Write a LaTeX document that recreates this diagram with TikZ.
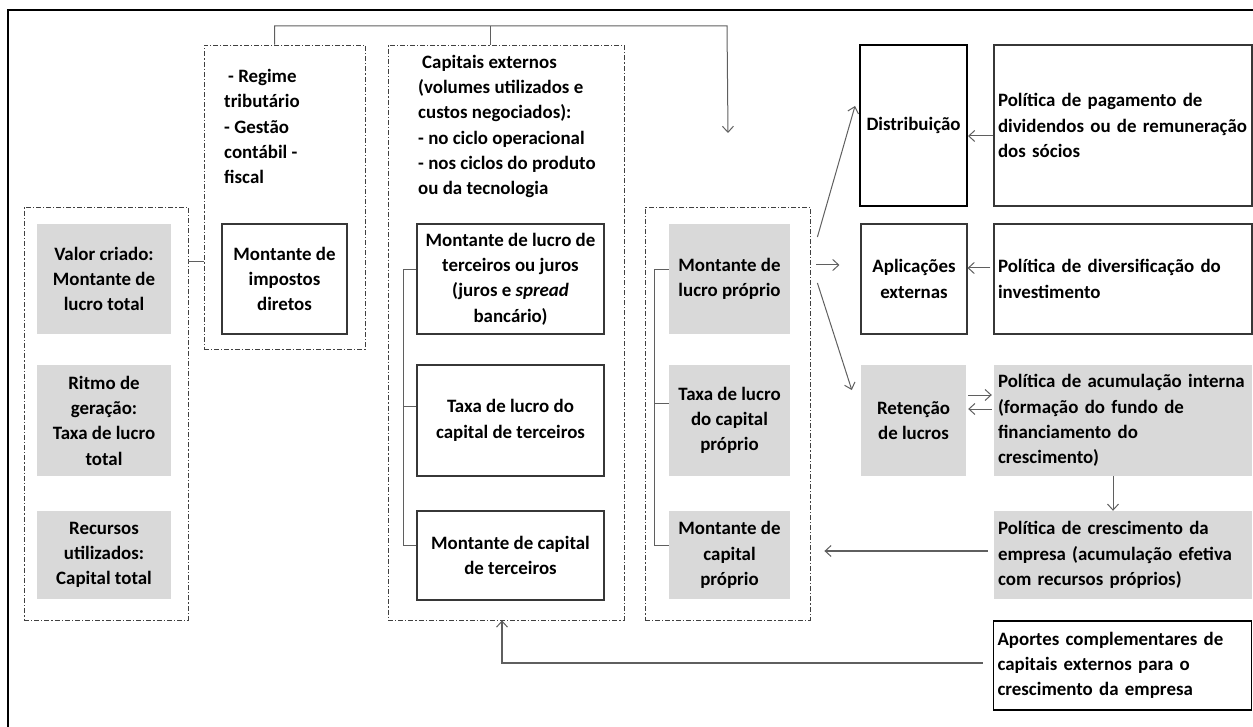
\documentclass[tikz,border=0pt]{standalone}
\usepackage{fontspec}
\setmainfont{Carlito}
\usetikzlibrary{arrows.meta,calc}
\definecolor{boxgray}{RGB}{217,217,217}
\definecolor{linegray}{RGB}{95,95,95}
\definecolor{boxline}{RGB}{55,55,55}
\newcommand\keepline[1]{\mbox{#1}}
\begin{document}
\begin{tikzpicture}[x=1pt,y=-1pt,
  every node/.style={font=\fontsize{18.9}{25.3}\selectfont\bfseries, inner sep=2pt, align=center},
  sz/.style 2 args={minimum width=#1pt, minimum height=#2pt},
  grp/.style={draw=black!75, line width=0.8pt, dash pattern=on 5pt off 2pt on 1.2pt off 2pt},
  gbox/.style={fill=boxgray},
  wbox/.style={draw=boxline, line width=1.1pt, fill=white},
  polbox/.style={text width=250pt, inner xsep=4pt, align=left},
  conn/.style={draw=linegray, line width=1pt},
  arr/.style={conn, -{Straight Barb[length=6pt,width=11pt]}},
  thickarr/.style={draw=linegray, line width=1.6pt, -{Straight Barb[length=6pt,width=11pt,line width=1pt]}}
]
\useasboundingbox (0,0) rectangle (1253,727);
% outer frame (only top and left visible)
\draw[line width=2pt] (8,10) rectangle (1280,760);

% dashed groups
\node[grp, sz={164}{413}] (g1) at (106,413.5) {};
\node[grp, sz={161}{304}] (g2) at (284.5,197) {};
\node[grp, sz={236}{575}] (g3) at (506,332.5) {};
\node[grp, sz={165}{413}] (g4) at (727.5,413.5) {};

% left group
\node[gbox, sz={134}{110}] (v1) at (104,279) {Valor criado:\\Montante de\\lucro total};
\node[gbox, sz={134}{111}] (v2) at (104,420.5) {Ritmo de\\geração:\\Taxa de lucro\\total};
\node[gbox, sz={134}{88}] (v3) at (104,555) {Recursos\\utilizados:\\Capital total};

% taxes
\node[anchor=west, align=left] (regime) at (222,126.5) {\hspace{4pt}- Regime\\tributário\\- Gestão\\contábil -\\fiscal};
\node[wbox, sz={125}{110}] (imp) at (284.5,279) {Montante de\\impostos\\diretos};

% external capital
\node[anchor=west, align=left] (capext) at (416,126.5) {\hspace{4pt}Capitais externos\\(volumes utilizados e\\custos negociados):\\- no ciclo operacional\\- nos ciclos do produto\\ou da tecnologia};
\node[wbox, sz={187}{110}] (t1) at (510.5,279) {Montante de lucro de\\terceiros ou juros\\(juros e \textit{spread}\\bancário)};
\node[wbox, sz={187}{111}] (t2) at (510.5,420.5) {Taxa de lucro do\\capital de terceiros};
\node[wbox, sz={187}{89}] (t3) at (510.5,555.5) {Montante de capital\\de terceiros};

% own capital
\node[gbox, sz={121}{110}] (p1) at (729.5,279) {Montante de\\lucro próprio};
\node[gbox, sz={121}{111}] (p2) at (729.5,420.5) {Taxa de lucro\\do capital\\próprio};
\node[gbox, sz={121}{88}] (p3) at (729.5,555) {Montante de\\capital\\próprio};

% destinations
\node[wbox, draw=black, line width=2pt, sz={107}{161}] (dist) at (913.5,125.5) {Distribuição};
\node[wbox, sz={106}{110}] (apl) at (914,279) {Aplicações\\externas};
\node[gbox, sz={105}{111}] (ret) at (913.5,420.5) {Retenção\\de lucros};

% policies
\node[wbox, polbox, sz={258}{161}] (pol1) at (1123,125.5) {\keepline{Política de pagamento de}\\\keepline{dividendos ou de remuneração}\\\keepline{dos sócios}};
\node[wbox, polbox, sz={258}{110}] (pol2) at (1123,279) {\keepline{Política de diversificação do}\\\keepline{investimento}};
\node[gbox, polbox, sz={258}{111}] (pol3) at (1123,420.5) {\keepline{Política de acumulação interna}\\\keepline{(formação do fundo de}\\\keepline{financiamento do}\\\keepline{crescimento)}};
\node[gbox, polbox, sz={258}{88}] (pol4) at (1123,555) {\keepline{Política de crescimento da}\\\keepline{empresa (acumulação efetiva}\\\keepline{com recursos próprios)}};
\node[wbox, draw=black, polbox, sz={257}{89}] (apo) at (1122.5,665.5) {\keepline{Aportes complementares de}\\\keepline{capitais externos para o}\\\keepline{crescimento da empresa}};

% connectors
\draw[conn] (g1.east |- 0,262) -- (g2.west |- 0,262);

\coordinate (topL) at ($(g2.north west)+(71,0)$);
\coordinate (topM) at ($(g3.north)+(-16,0)$);
\coordinate (topR) at (727,26);
\coordinate (topEnd) at (728,133);
\draw[arr] (topL) |- (topR) -- (topEnd);
\draw[conn] (topM) -- (topM |- topR);

% bracket in external capital group
\coordinate (b3) at (403,270);
\draw[conn] (t1.west |- b3) -- (b3) -- (b3 |- 0,545) -- (t3.west |- 0,545);
\draw[conn] (b3 |- 0,406) -- (t2.west |- 0,406);

% bracket in own capital group
\coordinate (b4) at (654,270);
\draw[conn] (p1.west |- b4) -- (b4) -- (b4 |- 0,545) -- (p3.west |- 0,545);
\draw[conn] (b4 |- 0,403) -- (p2.west |- 0,403);

% from own profit group to destinations
\draw[arr] ($(g4.east |- 0,237)+(7,0)$) -- ($(dist.west |- 0,106)+(-4,0)$);
\draw[arr] ($(g4.east |- 0,265)+(6,0)$) -- ($(apl.west |- 0,265)+(-21,0)$);
\draw[arr] ($(g4.east |- 0,283)+(7,0)$) -- ($(ret.west |- 0,390)+(-9,0)$);

% policies to destinations
\draw[arr] (pol1.west |- 0,136) -- (dist.east |- 0,136);
\draw[arr] ($(pol2.west |- 0,268)+(-3,0)$) -- (apl.east |- 0,268);
\draw[arr] ($(ret.east |- 0,395)+(2,0)$) -- ($(pol3.west |- 0,395)+(-2,0)$);
\draw[arr] ($(pol3.west |- 0,409)+(-2,0)$) -- ($(ret.east |- 0,409)+(2,0)$);
\draw[arr] (pol3.south -| 1113,0) -- (pol4.north -| 1113,0);
\draw[thickarr] ($(pol4.west |- 0,551)+(-6,0)$) -- ($(g4.east |- 0,551)+(14,0)$);
\draw[thickarr] ($(apo.west |- 0,663)+(-10,0)$) -| (g3.south -| 502,0);
\end{tikzpicture}
\end{document}
